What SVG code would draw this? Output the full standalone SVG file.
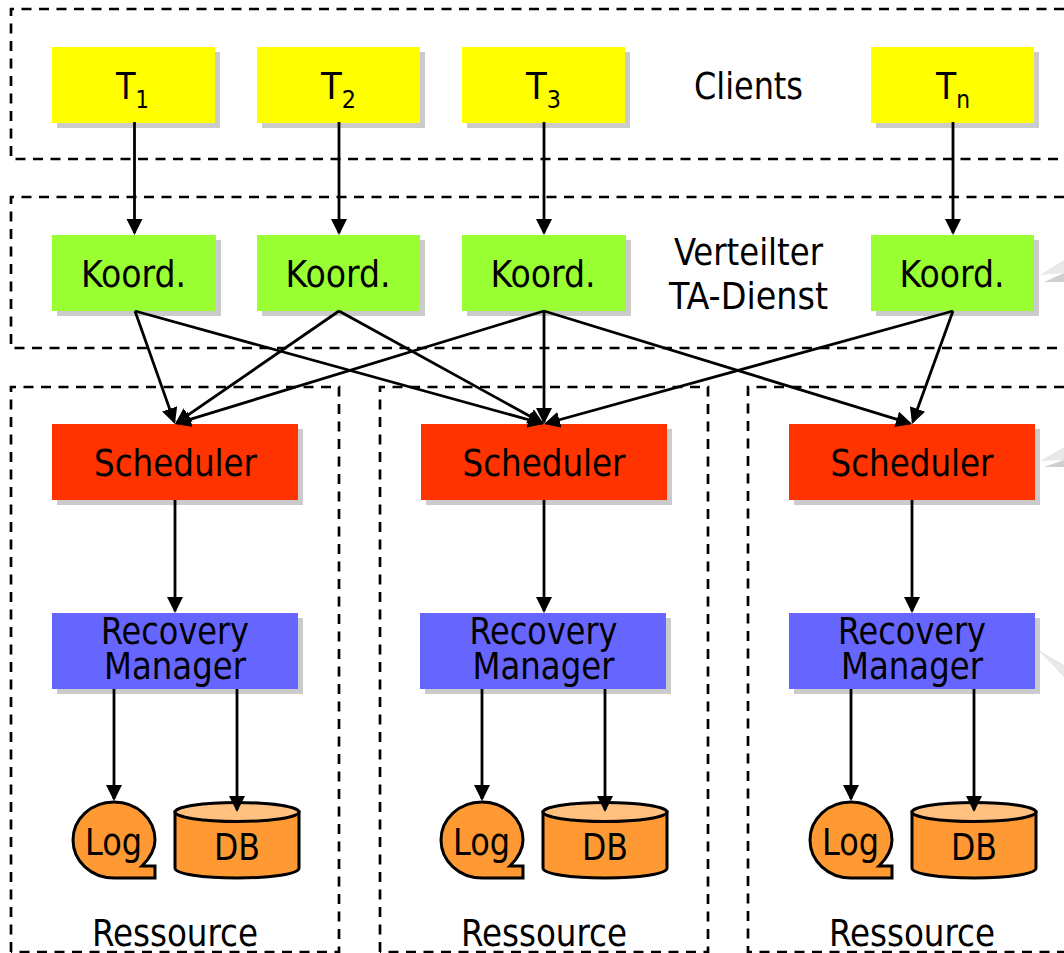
<svg xmlns="http://www.w3.org/2000/svg" width="1064" height="953" viewBox="0 0 1064 953">
<defs>
<marker id="ah" markerUnits="userSpaceOnUse" markerWidth="18" markerHeight="18" refX="14" refY="8" orient="auto"><path d="M0 0L16 8L0 16Z" fill="#000"/></marker>
<g id="log"><path d="M0 -38C-23 -38 -41 -21 -41 0C-41 21 -23 38 0 38H41V26H28C36 18 41 10 41 0C41 -21 23 -38 0 -38Z" class="or"/></g>
<g id="db"><path d="M-62 -28V28C-62 34 -34 38 0 38C34 38 62 34 62 28V-28Z" class="or"/><ellipse cx="0" cy="-28" rx="62" ry="9.500" fill="#ffc080" stroke="#000" stroke-width="3"/></g>
</defs>
<style>
text{font-family:"DejaVu Sans Condensed","DejaVu Sans","Liberation Sans",sans-serif;font-size:38px;fill:#000;text-anchor:middle}
.s{fill:#cbcbcb}
.y{fill:#ffff00}.g{fill:#99ff33}.r{fill:#ff3300}.b{fill:#6666ff}
.or{fill:#ff9933;stroke:#000;stroke-width:3}
.d{fill:none;stroke:#000;stroke-width:2.700;stroke-dasharray:10 7.500}
.c{fill:none;stroke:#000;stroke-width:2.800;marker-end:url(#ah)}
.sub{font-size:25px}
.p{fill:#e8e8e8}.q{fill:#cfcfcf}
</style>
<g id="regions">
<path class="d" d="M1064 9H11V159H1064"/>
<path class="d" d="M1064 197H11V348H1064"/>
<path class="d" d="M11 952V387H339V952H11"/>
<path class="d" d="M380 952V387H708V952H380"/>
<path class="d" d="M1064 387H748V952H1064"/>
</g>
<g id="callouts">
<path class="p" d="M1040 275L1064 260V273Z"/><path class="q" d="M1044 282L1064 273V282Z"/>
<path class="p" d="M1040 461L1064 447V460Z"/><path class="q" d="M1044 467L1064 460V467Z"/>
<path class="p" d="M1037 649L1064 665V677Z"/>
</g>
<g id="t1"><rect class="s" x="57" y="52" width="163" height="76"/><rect class="y" x="52" y="47" width="163" height="76"/><text x="132.500" y="99" textLength="33" lengthAdjust="spacingAndGlyphs">T<tspan class="sub" dy="9">1</tspan></text></g>
<g id="t2"><rect class="s" x="262" y="52" width="163" height="76"/><rect class="y" x="257" y="47" width="163" height="76"/><text x="338.500" y="99" textLength="35" lengthAdjust="spacingAndGlyphs">T<tspan class="sub" dy="9">2</tspan></text></g>
<g id="t3"><rect class="s" x="467" y="52" width="163" height="76"/><rect class="y" x="462" y="47" width="163" height="76"/><text x="543.500" y="99" textLength="35" lengthAdjust="spacingAndGlyphs">T<tspan class="sub" dy="9">3</tspan></text></g>
<g id="tn"><rect class="s" x="876" y="52" width="163" height="76"/><rect class="y" x="871" y="47" width="163" height="76"/><text x="953" y="99" textLength="34" lengthAdjust="spacingAndGlyphs">T<tspan class="sub" dy="9">n</tspan></text></g>
<g id="clients"><text x="748.500" y="99" textLength="109" lengthAdjust="spacingAndGlyphs">Clients</text></g>
<g id="k1"><rect class="s" x="57" y="240" width="164" height="76"/><rect class="g" x="52" y="235" width="164" height="76"/><text x="133.500" y="287" textLength="105" lengthAdjust="spacingAndGlyphs">Koord.</text></g>
<g id="k2"><rect class="s" x="262" y="240" width="163" height="76"/><rect class="g" x="257" y="235" width="163" height="76"/><text x="338" y="287" textLength="105" lengthAdjust="spacingAndGlyphs">Koord.</text></g>
<g id="k3"><rect class="s" x="467" y="240" width="164" height="76"/><rect class="g" x="462" y="235" width="164" height="76"/><text x="543" y="287" textLength="105" lengthAdjust="spacingAndGlyphs">Koord.</text></g>
<g id="k4"><rect class="s" x="876" y="240" width="163" height="76"/><rect class="g" x="871" y="235" width="163" height="76"/><text x="952" y="287" textLength="105" lengthAdjust="spacingAndGlyphs">Koord.</text></g>
<g id="dienst"><text x="748.500" y="265" textLength="149" lengthAdjust="spacingAndGlyphs">Verteilter</text><text x="748.500" y="309" textLength="159" lengthAdjust="spacingAndGlyphs">TA-Dienst</text></g>
<g id="s1"><rect class="s" x="57" y="429" width="246" height="76"/><rect class="r" x="52" y="424" width="246" height="76"/><text x="175.500" y="476" textLength="163" lengthAdjust="spacingAndGlyphs">Scheduler</text></g>
<g id="s2"><rect class="s" x="426" y="429" width="246" height="76"/><rect class="r" x="421" y="424" width="246" height="76"/><text x="544" y="476" textLength="163" lengthAdjust="spacingAndGlyphs">Scheduler</text></g>
<g id="s3"><rect class="s" x="794" y="429" width="246" height="76"/><rect class="r" x="789" y="424" width="246" height="76"/><text x="912" y="476" textLength="163" lengthAdjust="spacingAndGlyphs">Scheduler</text></g>
<g id="r1"><rect class="s" x="57" y="618" width="246" height="76"/><rect class="b" x="52" y="613" width="246" height="76"/><text x="175" y="644" textLength="148" lengthAdjust="spacingAndGlyphs">Recovery</text><text x="175" y="679" textLength="142" lengthAdjust="spacingAndGlyphs">Manager</text></g>
<g id="r2"><rect class="s" x="425" y="618" width="246" height="76"/><rect class="b" x="420" y="613" width="246" height="76"/><text x="543.500" y="644" textLength="148" lengthAdjust="spacingAndGlyphs">Recovery</text><text x="543.500" y="679" textLength="142" lengthAdjust="spacingAndGlyphs">Manager</text></g>
<g id="r3"><rect class="s" x="794" y="618" width="246" height="76"/><rect class="b" x="789" y="613" width="246" height="76"/><text x="912" y="644" textLength="148" lengthAdjust="spacingAndGlyphs">Recovery</text><text x="912" y="679" textLength="142" lengthAdjust="spacingAndGlyphs">Manager</text></g>
<g id="log1"><use href="#log" x="114" y="840"/><text x="113.500" y="855" textLength="57" lengthAdjust="spacingAndGlyphs">Log</text></g>
<g id="db1"><use href="#db" x="237" y="840"/><text x="237" y="860" textLength="46" lengthAdjust="spacingAndGlyphs">DB</text></g>
<g id="log2"><use href="#log" x="482" y="840"/><text x="481.500" y="855" textLength="57" lengthAdjust="spacingAndGlyphs">Log</text></g>
<g id="db2"><use href="#db" x="605" y="840"/><text x="605" y="860" textLength="46" lengthAdjust="spacingAndGlyphs">DB</text></g>
<g id="log3"><use href="#log" x="851" y="840"/><text x="850.500" y="855" textLength="57" lengthAdjust="spacingAndGlyphs">Log</text></g>
<g id="db3"><use href="#db" x="974" y="840"/><text x="974" y="860" textLength="46" lengthAdjust="spacingAndGlyphs">DB</text></g>
<g id="labels"><text x="175" y="946" textLength="166" lengthAdjust="spacingAndGlyphs">Ressource</text><text x="544" y="946" textLength="166" lengthAdjust="spacingAndGlyphs">Ressource</text><text x="912" y="946" textLength="166" lengthAdjust="spacingAndGlyphs">Ressource</text></g>
<g id="connectors">
<path class="c" d="M134.500 122V233"/><path class="c" d="M339 122V233"/><path class="c" d="M544 122V233"/><path class="c" d="M953 122V233"/>
<path class="c" d="M135 311L174.300 422.100"/><path class="c" d="M135 311L542.100 423.500"/>
<path class="c" d="M339 311L176.600 422.900"/><path class="c" d="M339 311L542.200 423"/>
<path class="c" d="M544 311L176.900 423.400"/><path class="c" d="M544 311V422"/><path class="c" d="M544 311L910.100 423.400"/>
<path class="c" d="M953 311L545.900 423.500"/><path class="c" d="M953 311L912.700 422.100"/>
<path class="c" d="M175 500V611"/><path class="c" d="M544 500V611"/><path class="c" d="M912 500V611"/>
<path class="c" d="M114 689V799"/><path class="c" d="M237 689V810"/>
<path class="c" d="M482 689V799"/><path class="c" d="M605 689V810"/>
<path class="c" d="M851 689V799"/><path class="c" d="M974 689V810"/>
</g>
</svg>
